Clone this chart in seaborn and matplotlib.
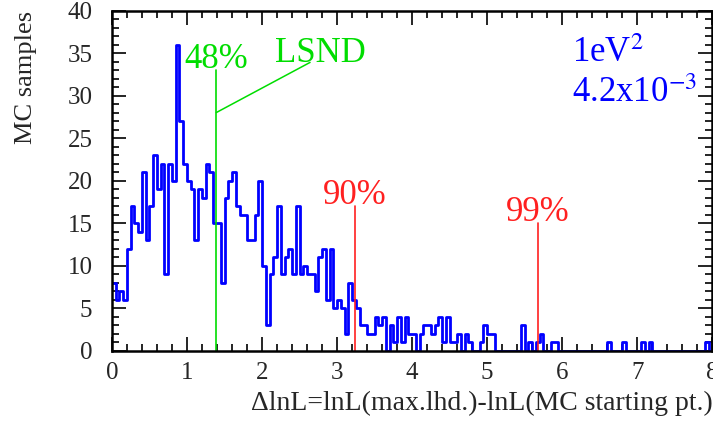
import numpy as np
import pandas as pd
import seaborn as sns
import matplotlib.pyplot as plt
from matplotlib.ticker import MultipleLocator

# histogram of MC samples, 160 bins of 0.05 between 0 and 8
counts = [8, 6, 7, 6, 12, 17, 15, 14, 21, 13,
          17, 23, 19, 22, 9, 22, 20, 36, 27, 22,
          20, 19, 13, 19, 18, 22, 21, 15, 15, 8,
          18, 20, 21, 17, 16, 16, 13, 13, 16, 20,
          10, 3, 9, 11, 17, 9, 11, 12, 9, 17,
          9, 10, 9, 9, 7, 11, 12, 6, 12, 5,
          6, 5, 2, 8, 6, 5, 3, 3, 2, 2,
          4, 3, 4, 0, 3, 1, 4, 1, 4, 2,
          2, 0, 2, 3, 3, 2, 3, 4, 1, 4,
          1, 1, 2, 0, 2, 1, 0, 0, 1, 3,
          2, 2, 0, 0, 0, 0, 0, 0, 0, 3,
          0, 1, 0, 1, 2, 0, 0, 1, 1, 0,
          0, 0, 0, 0, 0, 0, 0, 0, 0, 0,
          0, 0, 1, 0, 0, 0, 1, 0, 0, 0,
          0, 1, 0, 1, 0, 0, 0, 0, 0, 0,
          0, 0, 0, 0, 0, 0, 0, 0, 1, 0]
edges = np.linspace(0, 8, 161)
df = pd.DataFrame({'dlnL': 0.5 * (edges[:-1] + edges[1:]), 'n': counts})

# confidence level markers
cl_labels = ['48%', '90%', '99%']
cl_values = [1.39, 3.24, 5.68]
cl_tops = [33, 17, 15]
cl_colors = ['#00dd00', '#ff2020', '#ff2020']

sns.set_theme(style='ticks')
plt.rcParams['font.family'] = ['Liberation Serif', 'DejaVu Serif']
plt.rcParams['mathtext.fontset'] = 'stix'

fig = plt.figure(figsize=(7.13, 4.21), dpi=100)
ax = fig.add_axes([0.157, 0.167, 0.842, 0.808])

sns.histplot(data=df, x='dlnL', weights='n', bins=list(edges), element='step', fill=False,
             color='#0000ff', linewidth=2, ax=ax)

for lab, xv, top, c in zip(cl_labels, cl_values, cl_tops, cl_colors):
    ax.plot([xv, xv], [0, top], color=c, lw=1.2)
    ax.text(xv, top + 0.3, lab, color=c, fontsize=25, ha='center', va='baseline')

# LSND pointer
ax.plot([1.39, 2.64], [28, 33.9], color='#00dd00', lw=1.1)
ax.text(2.78, 34.0, 'LSND', color='#00dd00', fontsize=25, ha='center', va='baseline')

ax.text(6.13, 33.9, '1eV$^2$', color='#0000ff', fontsize=25, ha='left', va='baseline')
ax.text(6.13, 29.3, '4.2x10$^{-3}$', color='#0000ff', fontsize=25, ha='left', va='baseline')

ax.set_xlim(0, 8)
ax.set_ylim(0, 40)
ax.xaxis.set_major_locator(MultipleLocator(1))
ax.xaxis.set_minor_locator(MultipleLocator(0.2))
ax.yaxis.set_major_locator(MultipleLocator(5))
ax.yaxis.set_minor_locator(MultipleLocator(1))
ax.tick_params(which='both', direction='in', top=True, right=True, color='black', width=1.2)
ax.tick_params(which='major', length=10, labelsize=18)
ax.tick_params(which='minor', length=5)
ax.tick_params(axis='y', pad=14)
ax.tick_params(axis='x', pad=8)
for s in ax.spines.values():
    s.set_linewidth(1.8)
    s.set_color('black')

ax.set_xlabel('ΔlnL=lnL(max.lhd.)-lnL(MC starting pt.)', fontsize=20, loc='right', labelpad=5)
ax.set_ylabel('MC samples', fontsize=19, loc='top', labelpad=22)

fig.savefig('out.png', dpi=100)
